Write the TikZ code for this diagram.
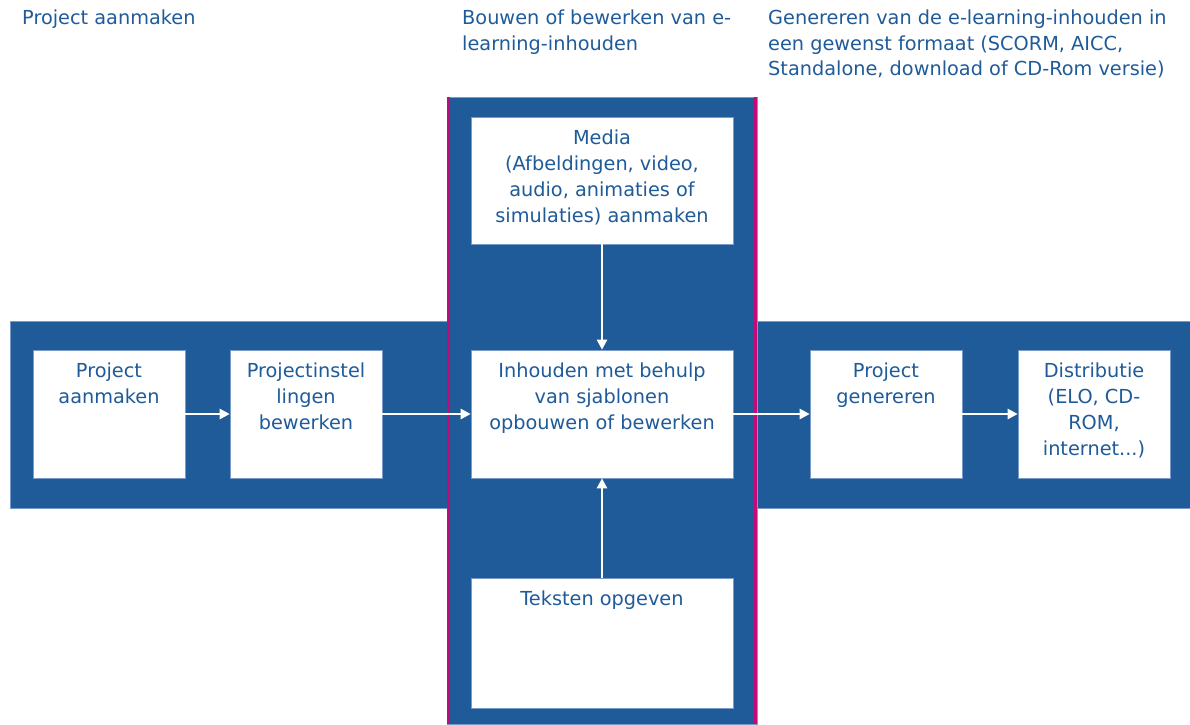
\documentclass[tikz,border=0pt]{standalone}
\usepackage{fontspec}
\setmainfont{DejaVu Sans}
\usetikzlibrary{positioning, arrows.meta}

\definecolor{bandblue}{RGB}{31,91,153}
\definecolor{edgeblue}{RGB}{120,155,200}
\definecolor{pinkline}{RGB}{196,10,120}

\tikzset{
  band/.style={fill=bandblue, draw=edgeblue, line width=0.6pt},
  box/.style={rectangle, fill=white, draw=edgeblue, line width=0.6pt,
    minimum width=152pt, minimum height=128pt, inner sep=0pt},
  widebox/.style={box, minimum width=262pt},
  boxtext/.style={anchor=north, align=center, inner sep=0pt, yshift=-12.5pt,
    text=bandblue, font=\fontsize{19.3}{26}\selectfont},
  heading/.style={anchor=north west, align=left, inner sep=0pt,
    text=bandblue, font=\fontsize{19.3}{25.5}\selectfont},
  flow/.style={-{Triangle[length=10pt,width=10pt]}, white, line width=2.4pt}
}

\begin{document}
\begin{tikzpicture}[x=1pt, y=-1pt, node distance=197pt, on grid]
   \useasboundingbox (0,0) rectangle (1190,724);

   % Background bands
   \fill[band] (10,321) rectangle (1190,508);
   \fill[band] (447,97) rectangle (757,724);
   \draw[pinkline, line width=2.6pt] (448.5,97) -- (448.5,724);
   \draw[pinkline, line width=2.6pt] (755.5,97) -- (755.5,724);

   % Phase headings
   \node[heading] (hproject) at (22,10) {Project aanmaken};
   \node[heading] (hbuild) at (462,10) {Bouwen of bewerken van e-\\learning-inhouden};
   \node[heading] (hgen) at (768,10) {Genereren van de e-learning-inhouden in\\een gewenst formaat (SCORM, AICC,\\Standalone, download of CD-Rom versie)};

   % Main row
   \node[box, label={[boxtext]north:Project\\aanmaken}] (pa) at (109,414) {};
   \node[box, label={[boxtext]north:Projectinstel\\lingen\\bewerken}] (pi) [right=of pa] {};
   \node[widebox, label={[boxtext]north:Inhouden met behulp\\van sjablonen\\opbouwen of bewerken}] (inh) [right=296pt of pi] {};
   \node[box, label={[boxtext]north:Project\\genereren}] (gen) [right=284pt of inh] {};
   \node[box, label={[boxtext]north:Distributie\\(ELO, CD-\\ROM,\\internet...)}] (dist) [right=208pt of gen] {};

   % Column boxes
   \node[widebox, minimum height=127pt, label={[boxtext]north:Media\\(Afbeldingen, video,\\audio, animaties of\\simulaties) aanmaken}] (media) [above=233.5pt of inh] {};
   \node[widebox, minimum height=130pt, label={[boxtext]north:Teksten opgeven}] (tek) [below=229pt of inh] {};

   % Flow
   \draw[flow] (pa) -- (pi);
   \draw[flow] (pi) -- (inh);
   \draw[flow] (inh) -- (gen);
   \draw[flow] (gen) -- (dist);
   \draw[flow] (media) -- (inh);
   \draw[flow] (tek) -- (inh);
\end{tikzpicture}
\end{document}
